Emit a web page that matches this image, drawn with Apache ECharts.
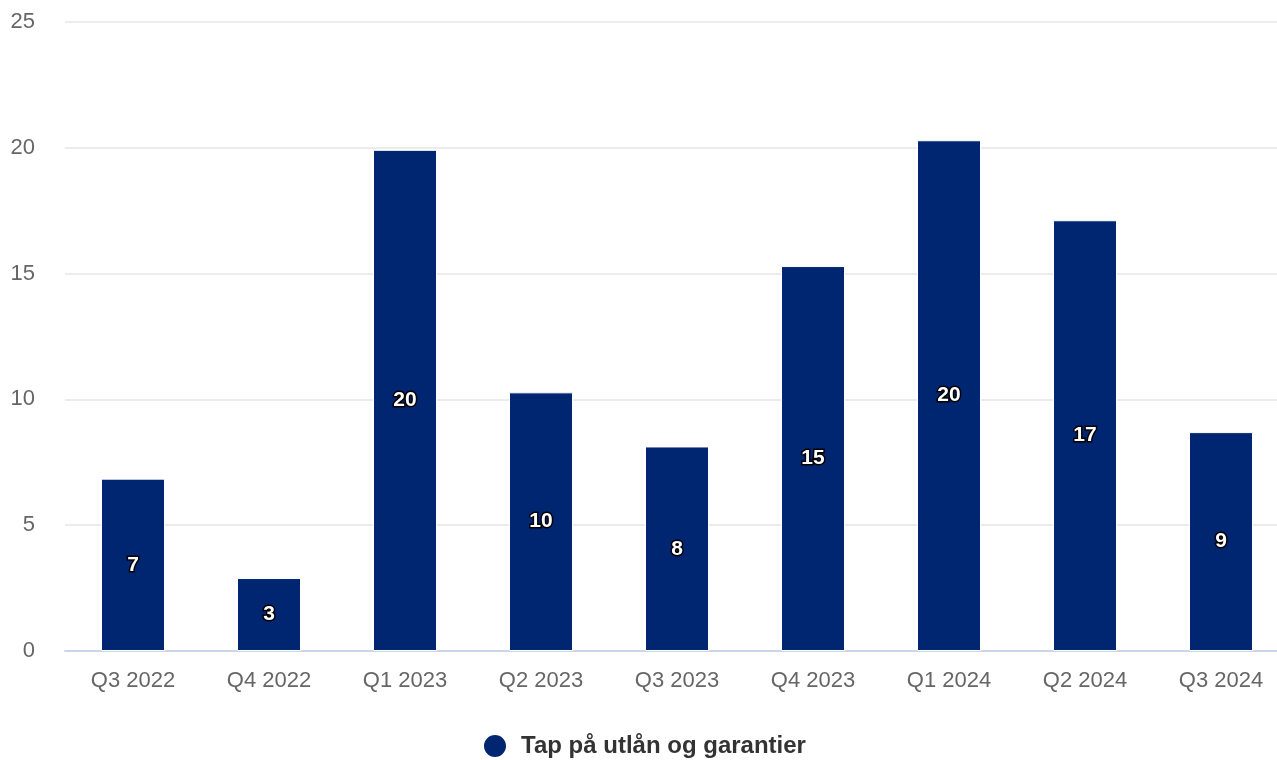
<!DOCTYPE html>
<html><head><meta charset="utf-8">
<script src="https://cdn.jsdelivr.net/npm/echarts@6/dist/echarts.min.js"></script>
<style>html,body{margin:0;padding:0;background:#fff;overflow:hidden}#c{width:1289px;height:760px}</style>
</head><body><div id="c"></div>
<script>
const categories = ['Q3 2022','Q4 2022','Q1 2023','Q2 2023','Q3 2023','Q4 2023','Q1 2024','Q2 2024','Q3 2024'];
const values = [6.85, 2.9, 19.92, 10.28, 8.13, 15.3, 20.3, 17.12, 8.7];
const seriesName = 'Tap på utlån og garantier';
const yTicks = [0, 5, 10, 15, 20, 25];

const chart = echarts.init(document.getElementById('c'));
chart.setOption({
  animation: false,
  textStyle: { fontFamily: 'Liberation Sans, Arial, sans-serif' },
  grid: { left: 65, right: 0, top: 22, bottom: 109 },
  legend: {
    bottom: 1, left: 482, padding: 0,
    icon: 'circle', itemWidth: 24, itemHeight: 24, itemGap: 10,
    textStyle: { fontSize: 24, fontWeight: 'bold', color: '#333', padding: [0, 0, 0, 9] },
    data: [seriesName]
  },
  xAxis: {
    type: 'category', data: categories,
    axisLine: { lineStyle: { color: '#ccd6eb', width: 2 } },
    axisTick: { show: false },
    axisLabel: { color: '#666', fontSize: 22, margin: 19 }
  },
  yAxis: {
    type: 'value', min: yTicks[0], max: yTicks[yTicks.length-1], interval: 5,
    axisLine: { show: false }, axisTick: { show: false },
    splitLine: { lineStyle: { color: '#e6e6e6', width: 1.5 } },
    axisLabel: { color: '#666', fontSize: 22, margin: 30 }
  },
  series: [{
    name: seriesName, type: 'bar', data: values,
    barWidth: 64,
    itemStyle: { color: '#002672', borderColor: '#fff', borderWidth: 1 },
    label: {
      show: true, position: 'inside',
      formatter: p => Math.round(p.value),
      color: '#fff', fontSize: 21, fontWeight: 'bold',
      textBorderColor: '#000', textBorderWidth: 3
    }
  }]
});
</script></body></html>
